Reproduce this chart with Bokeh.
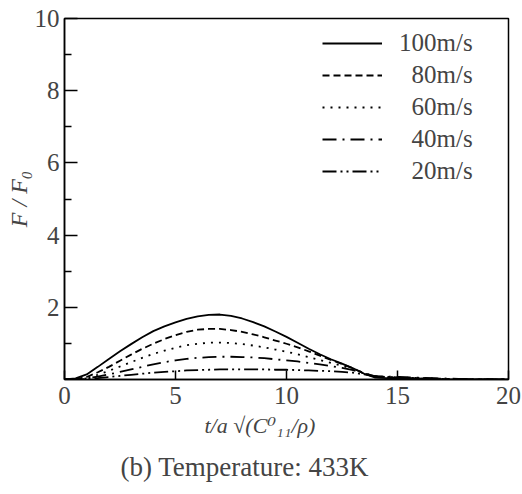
from bokeh.plotting import figure
from bokeh.models import FixedTicker, Legend, LegendItem, Title
from bokeh.embed import file_html
from bokeh.resources import INLINE

t = [0, 0.5, 1, 1.5, 2, 2.5, 3, 3.5, 4, 4.5, 5, 5.5, 6, 6.5, 7, 7.5, 8, 8.5, 9, 9.5,
     10, 10.5, 11, 11.5, 12, 12.5, 13, 13.5, 14, 14.5, 15, 15.5, 16, 16.5, 17, 18, 19, 20]
v100 = [0, 0.03, 0.14, 0.35, 0.57, 0.78, 0.98, 1.17, 1.34, 1.47, 1.58, 1.68, 1.75, 1.79, 1.80, 1.76, 1.69, 1.59, 1.47, 1.33,
        1.18, 1.02, 0.85, 0.70, 0.56, 0.44, 0.31, 0.16, 0.05, 0.04, 0.04, 0.03, 0.02, 0.02, 0.01, 0.0, 0.0, 0.0]
v80 = [0, 0.01, 0.07, 0.20, 0.35, 0.52, 0.69, 0.85, 0.99, 1.12, 1.23, 1.32, 1.38, 1.40, 1.40, 1.37, 1.32, 1.25, 1.17, 1.08,
       0.99, 0.89, 0.78, 0.66, 0.54, 0.43, 0.31, 0.17, 0.07, 0.06, 0.05, 0.04, 0.03, 0.02, 0.01, 0.01, 0, 0]
v60 = [0, 0.01, 0.05, 0.13, 0.24, 0.36, 0.48, 0.60, 0.71, 0.80, 0.88, 0.95, 0.99, 1.02, 1.02, 1.01, 0.98, 0.94, 0.89, 0.83,
       0.77, 0.70, 0.62, 0.54, 0.46, 0.38, 0.29, 0.18, 0.09, 0.07, 0.06, 0.05, 0.04, 0.03, 0.02, 0.01, 0, 0]
v40 = [0, 0.005, 0.03, 0.08, 0.14, 0.21, 0.28, 0.35, 0.42, 0.48, 0.53, 0.57, 0.60, 0.62, 0.63, 0.63, 0.62, 0.61, 0.59, 0.56,
       0.53, 0.50, 0.46, 0.42, 0.37, 0.32, 0.26, 0.17, 0.09, 0.08, 0.07, 0.06, 0.05, 0.04, 0.03, 0.01, 0, 0]
v20 = [0, 0.003, 0.015, 0.04, 0.07, 0.10, 0.13, 0.16, 0.19, 0.21, 0.23, 0.25, 0.26, 0.27, 0.28, 0.28, 0.28, 0.28, 0.28, 0.27,
       0.27, 0.26, 0.25, 0.24, 0.23, 0.21, 0.19, 0.14, 0.09, 0.07, 0.06, 0.05, 0.04, 0.03, 0.02, 0.01, 0, 0]

labels = ["100m/s", "\u200280m/s", "\u200260m/s", "\u200240m/s", "\u200220m/s"]
series = [v100, v80, v60, v40, v20]
dashes = ["solid", "7 4", "2 6", "14 6 2 6", "14 4 2 4 2 4"]

x_ticks = [0, 5, 10, 15, 20]
y_ticks = [2, 4, 6, 8, 10]
y_minor = [1, 3, 5, 7, 9]

FONT = "Liberation Serif"
MFONT = "'Liberation Serif', 'DejaVu Serif', serif"

p = figure(width=522, height=494, output_backend="svg", toolbar_location=None,
           x_range=(0, 20), y_range=(0, 10),
           min_border_left=64, min_border_top=18, min_border_right=14, min_border_bottom=115)
p.background_fill_color = "white"
p.border_fill_color = "white"
p.grid.visible = False
p.outline_line_color = "black"
p.outline_line_width = 1.5

items = []
for lab, ys, d in zip(labels, series, dashes):
    r = p.line(t, ys, line_color="black", line_width=1.8, line_dash=d)
    items.append(LegendItem(label=lab, renderers=[r]))

xa = p.xaxis[0]
xa.ticker = FixedTicker(ticks=x_ticks)
xa.major_tick_in = 9
xa.major_tick_out = 0
xa.minor_tick_line_color = None
xa.axis_line_width = 1.5
xa.major_tick_line_width = 1.5
xa.major_label_text_font = FONT
xa.major_label_text_font_size = "25px"
xa.major_label_standoff = 7

ya = p.yaxis[0]
ya.ticker = FixedTicker(ticks=y_ticks, minor_ticks=y_minor)
ya.major_tick_in = 13
ya.major_tick_out = 0
ya.minor_tick_in = 7
ya.minor_tick_out = 0
ya.axis_line_width = 1.5
ya.major_tick_line_width = 1.5
ya.minor_tick_line_width = 1.5
ya.major_label_text_font = FONT
ya.major_label_text_font_size = "25px"
ya.major_label_standoff = 5
ya.axis_label = "F / F\u2080"
ya.axis_label_text_font = MFONT
ya.axis_label_text_font_style = "italic"
ya.axis_label_text_font_size = "24px"
ya.axis_label_standoff = 0

legend = Legend(items=items, location=(258, 194), border_line_color=None,
                background_fill_alpha=0, padding=0, margin=0, spacing=4,
                glyph_width=60, glyph_height=26, label_height=26, label_standoff=17,
                label_text_font=FONT, label_text_font_size="25px")
p.add_layout(legend, "center")

xlab = Title(text="t/a \u221a(C\u2070\u2081\u2081/\u03c1)", align="left", offset=140,
             text_font=MFONT, text_font_style="italic", text_font_size="22px", standoff=8)
p.add_layout(xlab, "below")
cap = Title(text="(b) Temperature: 433K", align="left", offset=56, vertical_align="top",
            text_font=FONT, text_font_style="normal", text_font_size="27px", standoff=21)
p.add_layout(cap, "below")

open("out.html", "w").write(file_html(p, INLINE))
